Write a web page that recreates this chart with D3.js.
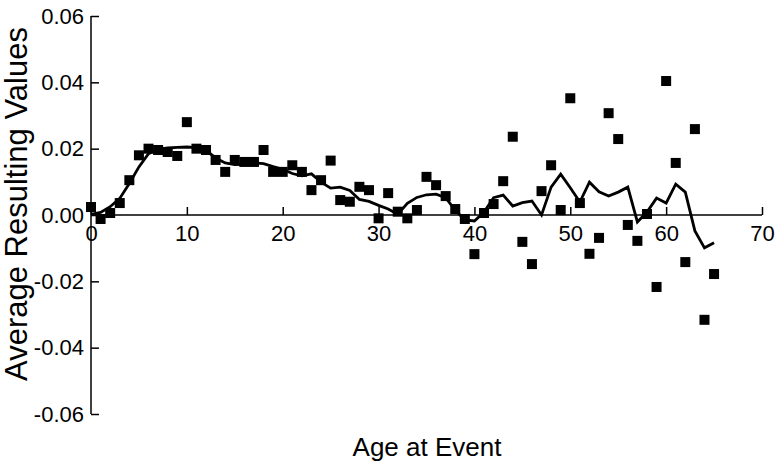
<!DOCTYPE html>
<html>
<head>
<meta charset="utf-8">
<script src="https://cdn.jsdelivr.net/npm/d3@7"></script>
<style>
  body { margin: 0; background: #fff; }
  svg { display: block; font-family: "Liberation Sans", Arial, sans-serif; }
</style>
</head>
<body>
<div id="chart"></div>
<script>
// ages 0..65
var ages = d3.range(0, 66);

// square markers (raw averages)
var pointValues = [
  0.0024, -0.0012, 0.0006, 0.0036, 0.0105, 0.018, 0.020, 0.0196, 0.019, 0.0178,
  0.028, 0.020, 0.0196, 0.0166, 0.013, 0.0166, 0.016, 0.016, 0.0196, 0.013,
  0.013, 0.015, 0.013, 0.0075, 0.0105, 0.0164, 0.0045, 0.004, 0.0085, 0.0075,
  -0.001, 0.0066, 0.001, -0.001, 0.0015, 0.0115, 0.009, 0.0057, 0.0018, -0.0012,
  -0.0118, 0.0006, 0.0033, 0.0102, 0.0236, -0.0081, -0.0148, 0.0072, 0.015, 0.0015,
  0.0352, 0.0036, -0.0117, -0.0069, 0.0307, 0.0229, -0.003, -0.0078, 0.0003, -0.0217,
  0.0404, 0.0157, -0.0142, 0.0259, -0.0316, -0.0178
];

// smoothed line
var lineValues = [
  0.0002, 0.0008, 0.0025, 0.005, 0.0095, 0.0145, 0.0185, 0.0198, 0.0202, 0.0204,
  0.0205, 0.0203, 0.0195, 0.0172, 0.0157, 0.0152, 0.0153, 0.0157, 0.0155, 0.0146,
  0.0138, 0.0125, 0.0118, 0.0124, 0.0099, 0.0081, 0.0084, 0.0074, 0.0047, 0.0041,
  0.0029, 0.0018, 0.0002, 0.0035, 0.0053, 0.0061, 0.0063, 0.0052, 0.0014, -0.0015,
  -0.0018, 0.0009, 0.0052, 0.006, 0.0027, 0.0037, 0.0042, 0.0, 0.0084, 0.0123,
  0.0082, 0.0039, 0.0099, 0.007, 0.0057, 0.0069, 0.0084, -0.0021, 0.0009, 0.0051,
  0.0036, 0.0093, 0.0069, -0.0048, -0.0099, -0.0084
];

var xTicks = [0, 10, 20, 30, 40, 50, 60, 70];
var yTicks = [-0.06, -0.04, -0.02, 0, 0.02, 0.04, 0.06];

var w = 776, h = 464;

var svg = d3.select('#chart').append('svg')
  .attr('width', w)
  .attr('height', h);

var x = d3.scaleLinear().domain([0, 70]).range([91, 762]);
var y = d3.scaleLinear().domain([-0.06, 0.06]).range([414, 16]);

// plain hyphen minus like the original
var fmtY = function(d) { return d3.format('.2f')(d).replace('\u2212', '-'); };

// y axis, ticks pointing inward
var yAxis = svg.append('g')
  .attr('transform', 'translate(' + x(0) + ',0)')
  .call(d3.axisRight(y).tickValues(yTicks).tickSize(8).tickFormat(fmtY));
yAxis.select('.domain').attr('d', 'M0,' + y(0.06) + 'V' + y(-0.06)).attr('stroke-width', 1.5);
yAxis.selectAll('.tick line').attr('stroke-width', 1.5);
yAxis.selectAll('.tick text')
  .attr('x', -7)
  .attr('text-anchor', 'end')
  .attr('font-size', 22)
  .attr('fill', '#000');

// x axis along zero, ticks pointing up
var xAxis = svg.append('g')
  .attr('transform', 'translate(0,' + y(0) + ')')
  .call(d3.axisTop(x).tickValues(xTicks).tickSize(8).tickFormat(d3.format('d')));
xAxis.select('.domain').attr('d', 'M' + x(0) + ',0H' + x(70)).attr('stroke-width', 1.5);
xAxis.selectAll('.tick line').attr('stroke-width', 1.5);
xAxis.selectAll('.tick text')
  .attr('y', 26)
  .attr('font-size', 22)
  .attr('fill', '#000');

// smoothed line
var line = d3.line()
  .x(function(d, i) { return x(ages[i]); })
  .y(function(d) { return y(d); });

svg.append('path')
  .datum(lineValues)
  .attr('fill', 'none')
  .attr('stroke', '#000')
  .attr('stroke-width', 2.8)
  .attr('stroke-linejoin', 'miter')
  .attr('d', line);

// square markers
var s = 10;
svg.selectAll('rect.pt')
  .data(pointValues)
  .enter()
  .append('rect')
  .attr('class', 'pt')
  .attr('x', function(d, i) { return x(ages[i]) - s / 2; })
  .attr('y', function(d) { return y(d) - s / 2; })
  .attr('width', s)
  .attr('height', s)
  .attr('fill', '#000');

// axis titles
svg.append('text')
  .attr('x', 427)
  .attr('y', 456)
  .attr('text-anchor', 'middle')
  .attr('font-size', 26)
  .text('Age at Event');

svg.append('text')
  .attr('transform', 'translate(27,204) rotate(-90)')
  .attr('text-anchor', 'middle')
  .attr('font-size', 31)
  .text('Average Resulting Values');
</script>
</body>
</html>
